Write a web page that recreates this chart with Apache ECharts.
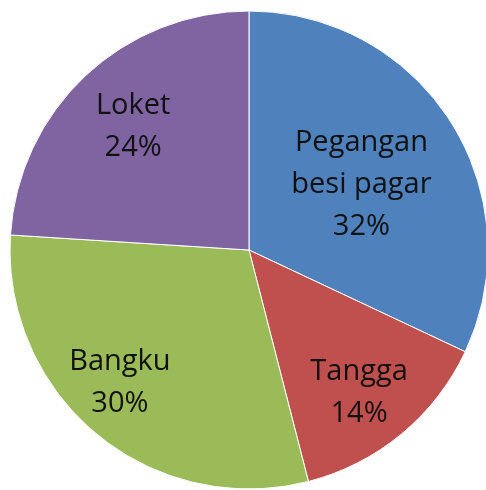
<!DOCTYPE html>
<html>
<head>
<meta charset="utf-8">
<script src="https://cdn.jsdelivr.net/npm/echarts@6/dist/echarts.min.js"></script>
<style>
html,body{margin:0;padding:0;background:#fff;}
#container{width:486px;height:490px;}
</style>
</head>
<body>
<div id="container"></div>
<script>
// data
var names=['Pegangan\nbesi pagar','Tangga','Bangku','Loket'];
var values=[32,14,30,24];
var colors=['#4F81BD','#C0504D','#9BBB59','#8064A2'];
// label nudges (Excel best-fit placement)
var labelDx=[9,32,-51,-32];
var labelDy=[0,48,38,-34];

var pieData=[];
for(var i=0;i<names.length;i++){
	pieData.push({name:names[i],value:values[i],itemStyle:{color:colors[i]}});
}

var option={
	animation:false,
	series:[
		{
			type:'pie',
			center:[249,250],
			radius:239,
			startAngle:90,
			clockwise:true,
			avoidLabelOverlap:false,
			itemStyle:{borderColor:'#ffffff',borderWidth:1},
			label:{
				show:true,
				position:'inside',
				formatter:'{b}\n{d}%',
				color:'#111',
				fontFamily:'Open Sans',
				fontSize:29,
				lineHeight:42
			},
			labelLine:{show:false},
			labelLayout:function(params){
				return {dx:labelDx[params.dataIndex],dy:labelDy[params.dataIndex]};
			},
			data:pieData
		}
	]
};

var mychart=echarts.init(document.getElementById("container"));
mychart.setOption(option);
</script>
</body>
</html>
